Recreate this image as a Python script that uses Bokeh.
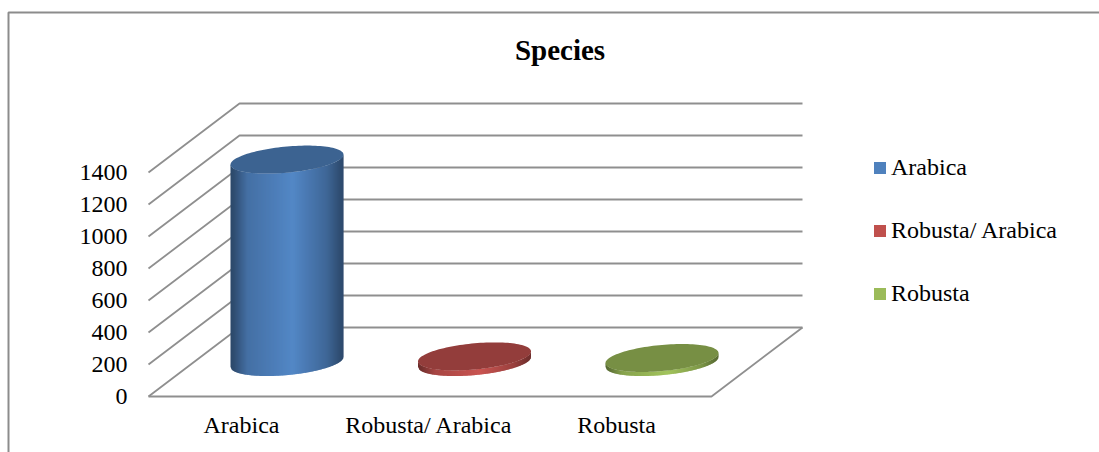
import numpy as np
from bokeh.embed import file_html
from bokeh.resources import INLINE
from bokeh.plotting import figure
from bokeh.models import Range1d, FixedTicker, Legend, LegendItem, ColumnDataSource
from bokeh.core.properties import value

categories = ["Arabica", "Robusta/ Arabica", "Robusta"]
species_counts = [1265, 35, 25]
series_colors = ["#4F81BD", "#C0504D", "#9BBB59"]
value_ticks = [0, 200, 400, 600, 800, 1000, 1200, 1400]
chart_title = "Species"

W, H = 1099, 452
FONT = "Liberation Serif"
GRID = "#8f8f8f"

# Pixel layout of the oblique projection
PX_PER_CAT = 187.5
PX_PER_VALUE = 0.16
ORIGIN_X, ORIGIN_Y = 241.0, 396.0  # first category, value 0, front edge
DEPTH_X, DEPTH_Y = 91.0, 69.0      # shift from the front to the back of the floor
FLOOR_LEFT, FLOOR_RIGHT = 148.0, 711.0


def xd(px):
    return (np.asarray(px, dtype=float) - ORIGIN_X) / PX_PER_CAT


def yd(py):
    return (ORIGIN_Y - np.asarray(py, dtype=float)) / PX_PER_VALUE


p = figure(
    width=W, height=H, output_backend="svg", toolbar_location=None,
    x_range=Range1d(float(xd(0)), float(xd(W))),
    y_range=Range1d(float(yd(H)), float(yd(0))),
    min_border=0, min_border_left=0, min_border_right=0,
    min_border_top=0, min_border_bottom=0,
)
p.outline_line_color = None
p.background_fill_color = "white"
p.border_fill_color = "white"
p.grid.visible = False

# Chart-area border: only the top and left edges are in view
p.line(xd([8, 8, W]), yd([H, 12, 12]), line_color="#8c8c8c", line_width=2)

# Back-wall and side-wall gridlines, one per tick
dx_cat = DEPTH_X / PX_PER_CAT
dy_val = DEPTH_Y / PX_PER_VALUE
left = float(xd(FLOOR_LEFT))
right = float(xd(FLOOR_RIGHT))
for v in value_ticks:
    p.line([left, left + dx_cat, right + dx_cat], [v, v + dy_val, v + dy_val],
           line_color=GRID, line_width=1.8)
# Front and right edges of the floor
p.line([left, right, right + dx_cat], [0, 0, dy_val], line_color=GRID, line_width=1.8)

# Cylinders: vertical strips give the side shading, a sheared ellipse gives the cap
RADIUS_X = 56.5
RADIUS_Y = 13.1
SHEAR = 5.0
N_STRIPS = 113
SHADE_POS = [0.0, 0.03, 0.15, 0.55, 0.85, 0.97, 1.0]
SHADE_VAL = [0.56, 0.60, 0.87, 1.05, 0.80, 0.60, 0.58]


def scaled(hex_color, k):
    rgb = [int(hex_color[i:i + 2], 16) for i in (1, 3, 5)]
    return "#%02x%02x%02x" % tuple(int(min(255, c * k)) for c in rgb)


def lower_edge(t):
    """Pixel offset (upwards) of the near rim at horizontal offset t in [-1, 1]."""
    return -RADIUS_Y * np.sqrt(np.clip(1 - t * t, 0, 1)) + SHEAR * t


for i, (count, color) in enumerate(zip(species_counts, series_colors)):
    cx_px = ORIGIN_X + i * PX_PER_CAT + DEPTH_X / 2
    base_val = dy_val / 2
    top_val = base_val + count

    edges = np.linspace(-1, 1, N_STRIPS + 1)
    xs, ys, cols = [], [], []
    for a, b in zip(edges[:-1], edges[1:]):
        b2 = min(1.0, b + 0.012)  # slight overlap hides seams between strips
        sx = [cx_px + a * RADIUS_X, cx_px + b2 * RADIUS_X] * 2
        xs.append(xd([sx[0], sx[1], sx[1], sx[0]]).tolist())
        ys.append([
            base_val + lower_edge(a) / PX_PER_VALUE,
            base_val + lower_edge(b2) / PX_PER_VALUE,
            top_val + lower_edge(b2) / PX_PER_VALUE,
            top_val + lower_edge(a) / PX_PER_VALUE,
        ])
        cols.append(scaled(color, float(np.interp((a + b + 2) / 4, SHADE_POS, SHADE_VAL))))
    p.patches(xs, ys, fill_color=cols, line_color=None)

    theta = np.linspace(0, 2 * np.pi, 121)
    cap_x = xd(cx_px + RADIUS_X * np.cos(theta))
    cap_y = top_val + (RADIUS_Y * np.sin(theta) + SHEAR * np.cos(theta)) / PX_PER_VALUE
    p.patch(cap_x, cap_y, fill_color=scaled(color, 0.77), line_color=None)

# Axes sit inside the frame at the front edge of the floor
yaxis = p.yaxis[0]
yaxis.fixed_location = left
yaxis.ticker = FixedTicker(ticks=value_ticks)
yaxis.axis_line_color = None
yaxis.major_tick_line_color = None
yaxis.minor_tick_line_color = None
yaxis.major_label_standoff = 15
yaxis.major_label_text_font = FONT
yaxis.major_label_text_font_size = "24px"
yaxis.major_label_text_color = "#000000"

xaxis = p.xaxis[0]
xaxis.fixed_location = 0
xaxis.ticker = FixedTicker(ticks=list(range(len(categories))))
xaxis.major_label_overrides = {i: c for i, c in enumerate(categories)}
xaxis.axis_line_color = None
xaxis.major_tick_line_color = None
xaxis.minor_tick_line_color = None
xaxis.major_label_standoff = 9
xaxis.major_label_text_font = FONT
xaxis.major_label_text_font_size = "24px"
xaxis.major_label_text_color = "#000000"

# Title
p.text([float(xd(559.5))], [float(yd(49.5))], text=[chart_title],
       text_font=value(FONT), text_font_style="bold", text_font_size="29px",
       text_color="#000000", text_align="center", text_baseline="middle")

# Legend entries backed by bar renderers with no visible extent
items = []
for name, color in zip(categories, series_colors):
    src = ColumnDataSource(data=dict(x=[float("nan")], top=[float("nan")]))
    r = p.vbar(x="x", top="top", width=0.1, source=src, fill_color=color, line_color=None)
    items.append(LegendItem(label=name, renderers=[r]))
legend = Legend(
    items=items, location=(872, 145), orientation="vertical",
    glyph_width=15, glyph_height=15, label_standoff=4, spacing=36,
    label_text_font=FONT, label_text_font_size="24px", label_text_color="#000000",
    background_fill_alpha=0, border_line_color=None, margin=0, padding=0,
    label_height=27,
)
p.add_layout(legend, "center")

open("out.html", "w").write(file_html(p, INLINE))
